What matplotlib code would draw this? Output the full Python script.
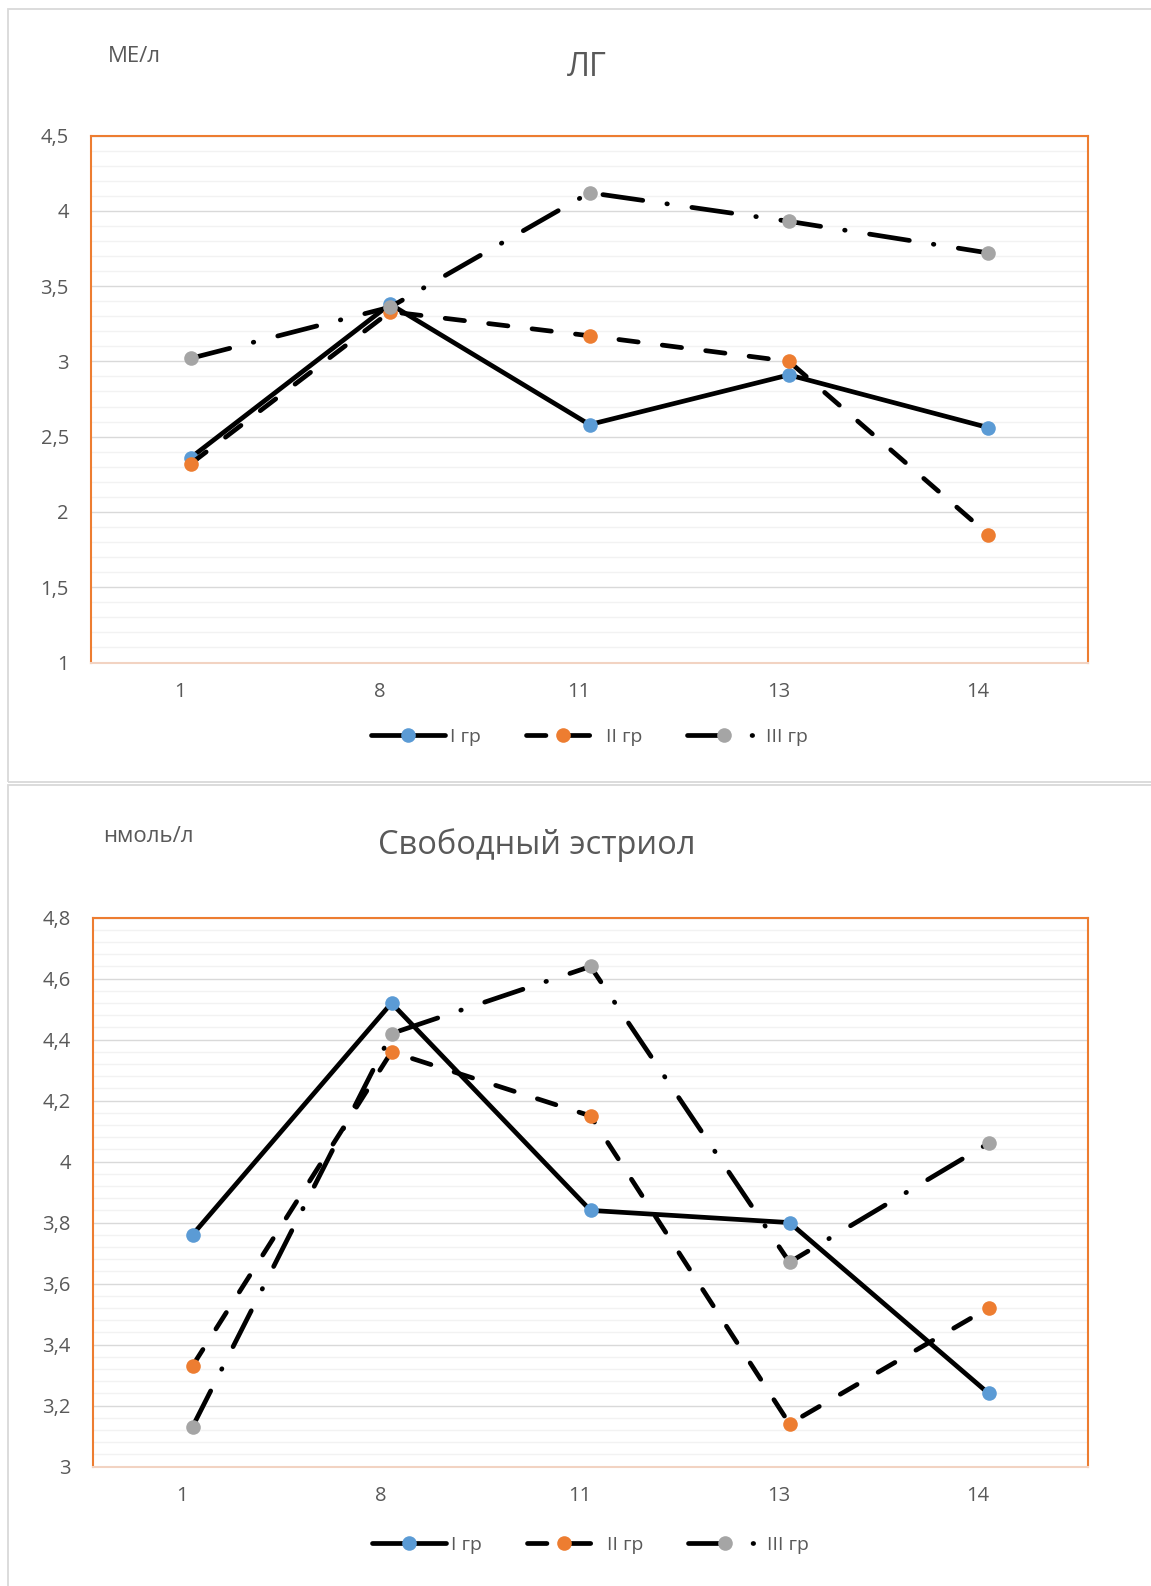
import numpy as np
import matplotlib
matplotlib.use("Agg")
import matplotlib.pyplot as plt
import matplotlib.patches as mpatches
from matplotlib.ticker import MultipleLocator, FuncFormatter

plt.rcParams["font.family"] = ["Open Sans", "DejaVu Sans"]
plt.rcParams["lines.scale_dashes"] = False

W, H = 1151, 1586
TEXT = "#595959"
ORANGE = "#ED7D31"

# ─── DATA ─────────────────────────────────────────────────────────────────────

weeks = ["1", "8", "11", "13", "14"]
groups = ["I гр", "II гр", "III гр"]

lh_gr1 = [2.36, 3.38, 2.58, 2.91, 2.56]
lh_gr2 = [2.32, 3.33, 3.17, 3.00, 1.85]
lh_gr3 = [3.02, 3.36, 4.12, 3.93, 3.72]

e3_gr1 = [3.76, 4.52, 3.84, 3.80, 3.24]
e3_gr2 = [3.33, 4.36, 4.15, 3.14, 3.52]
e3_gr3 = [3.13, 4.42, 4.64, 3.67, 4.06]

marker_colors = ["#5B9BD5", "#ED7D31", "#A5A5A5"]
line_dashes = [None, (0, (14, 17.5)), (0, (29, 17.5, 0.4, 17.8))]


def px_box(left, top, right, bottom):
    """Pixel box -> figure fraction [x, y, w, h]."""
    return [left / W, 1 - bottom / H, (right - left) / W, (bottom - top) / H]


def comma_fmt(v, _pos):
    return f"{v:g}".replace(".", ",")


def draw_chart(fig, box, series, ylim, major, minor, frame_top, frame_bottom,
               title, title_xy, unit, unit_xy, legend_y):
    # light grey frame round the whole chart
    fig.add_artist(mpatches.Rectangle(
        (8 / W, 1 - frame_bottom / H), 1.2, (frame_bottom - frame_top) / H,
        transform=fig.transFigure, facecolor="none", edgecolor="#D9D9D9",
        linewidth=1.3, zorder=0))

    ax = fig.add_axes(px_box(*box))
    x = np.arange(len(weeks))
    for name, vals, col, dash in zip(groups, series, marker_colors, line_dashes):
        line, = ax.plot(x, vals, color="black", linewidth=3.4,
                        marker="o", markersize=10.5, markerfacecolor=col,
                        markeredgewidth=0, label=name,
                        solid_capstyle="round", dash_capstyle="round",
                        solid_joinstyle="round")
        if dash is not None:
            line.set_linestyle(dash)

    ax.set_xlim(-0.5, len(weeks) - 0.5)
    ax.set_ylim(*ylim)
    ax.set_xticks(x - 0.053)
    ax.set_xticklabels(weeks)
    ax.yaxis.set_major_locator(MultipleLocator(major))
    ax.yaxis.set_minor_locator(MultipleLocator(minor))
    ax.yaxis.set_major_formatter(FuncFormatter(comma_fmt))
    ax.grid(axis="y", which="major", color="#D9D9D9", linewidth=1.0, zorder=0)
    ax.grid(axis="y", which="minor", color="#F2F2F2", linewidth=1.0, zorder=0)
    ax.set_axisbelow(True)
    ax.tick_params(axis="both", which="both", length=0, colors=TEXT,
                   labelsize=14.5)
    ax.tick_params(axis="y", pad=16)
    ax.tick_params(axis="x", pad=14)

    for side in ("top", "left", "right"):
        ax.spines[side].set_color(ORANGE)
        ax.spines[side].set_linewidth(1.5)
    ax.spines["bottom"].set_color("#F2D3C2")
    ax.spines["bottom"].set_linewidth(1.5)

    fig.text(title_xy[0] / W, 1 - title_xy[1] / H, title, ha="center",
             va="center", fontsize=23.5, color=TEXT)
    fig.text(unit_xy[0] / W, 1 - unit_xy[1] / H, unit, ha="left",
             va="center", fontsize=16, color=TEXT)

    cx = (box[0] + box[2]) / 2 / W
    fig.legend(handles=ax.get_lines(), loc="center", ncol=3,
               bbox_to_anchor=(cx, 1 - legend_y / H), frameon=False,
               fontsize=14, labelcolor=TEXT, handlelength=3.8,
               handletextpad=0.3, columnspacing=2.3, numpoints=1)
    return ax


fig = plt.figure(figsize=(W / 100, H / 100), dpi=100)
fig.patch.set_facecolor("white")

draw_chart(fig, (91, 135.5, 1088, 662.5), [lh_gr1, lh_gr2, lh_gr3],
           (1, 4.5), 0.5, 0.1, 9, 782,
           "ЛГ", (587, 68), "МЕ/л", (108, 57), 737)

draw_chart(fig, (93, 917.7, 1088, 1466.5), [e3_gr1, e3_gr2, e3_gr3],
           (3, 4.8), 0.2, 0.04, 785, 1600,
           "Свободный эстриол", (537, 845), "нмоль/л", (103, 836), 1545)

fig.savefig("out.png", dpi=100, facecolor="white")
